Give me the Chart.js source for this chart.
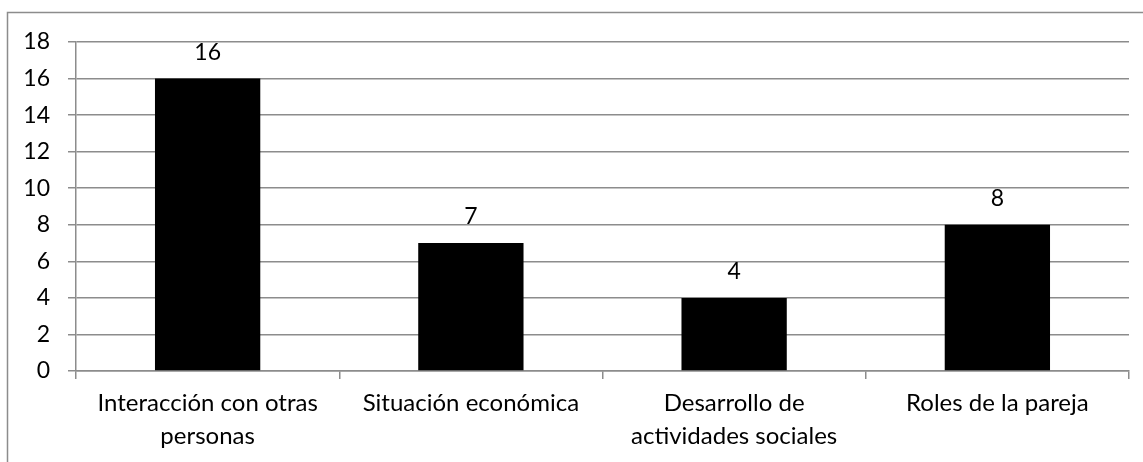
<!DOCTYPE html>
<html>
<head>
<meta charset="utf-8">
<script src="https://cdn.jsdelivr.net/npm/chart.js@4"></script>
<style>
  html, body { margin: 0; padding: 0; background: #fff; }
  #wrap { width: 1143px; height: 462px; position: relative; }
</style>
</head>
<body>
<div id="wrap"><canvas id="chart"></canvas></div>
<script>
const categories = [
    ["Interacción con otras", "personas"],
    "Situación económica",
    ["Desarrollo de", "actividades sociales"],
    "Roles de la pareja"
];
const values = [16, 7, 4, 8];
const yTicks = [0, 2, 4, 6, 8, 10, 12, 14, 16, 18];

const fontFamily = "Lato, 'Open Sans', sans-serif";

// frame around the whole chart
const framePlugin = {
    id: "frame",
    beforeDraw(chart) {
        const ctx = chart.ctx;
        ctx.save();
        ctx.strokeStyle = "#8c8c8c";
        ctx.lineWidth = 1.5;
        ctx.beginPath();
        ctx.moveTo(7.5, 462);
        ctx.lineTo(7.5, 12.5);
        ctx.lineTo(1143, 12.5);
        ctx.stroke();
        ctx.restore();
    }
};

// value above each bar
const valueLabels = {
    id: "valueLabels",
    afterDatasetsDraw(chart) {
        const ctx = chart.ctx;
        const meta = chart.getDatasetMeta(0);
        ctx.save();
        ctx.fillStyle = "#000";
        ctx.font = "23px " + fontFamily;
        ctx.textAlign = "center";
        ctx.textBaseline = "middle";
        meta.data.forEach((bar, i) => {
            ctx.fillText(values[i], bar.x, bar.y - 26);
        });
        ctx.restore();
    }
};

new Chart(document.getElementById("chart"), {
    type: "bar",
    data: {
        labels: categories,
        datasets: [
            {
                data: values,
                backgroundColor: "#000",
                borderWidth: 0,
                barPercentage: 0.4,
                categoryPercentage: 1.0,
            },
        ],
    },
    options: {
        responsive: true,
        maintainAspectRatio: false,
        animation: false,
        layout: { padding: { top: 42, right: 14, left: 0, bottom: 0 } },
        plugins: {
            legend: { display: false },
            tooltip: { enabled: false },
        },
        scales: {
            x: {
                offset: true,
                grid: {
                    offset: true,
                    drawOnChartArea: false,
                    drawTicks: true,
                    tickLength: 8,
                    color: "#8c8c8c",
                    lineWidth: 1.5,
                },
                border: { color: "#8c8c8c", width: 1.5 },
                ticks: {
                    color: "#000",
                    font: { family: fontFamily, size: 24, lineHeight: 1.38 },
                    padding: 8,
                    maxRotation: 0,
                    autoSkip: false,
                },
                afterFit(scale) { scale.height = 462 - 371; },
            },
            y: {
                min: 0,
                max: 18,
                afterBuildTicks(scale) {
                    scale.ticks = yTicks.map(v => ({ value: v }));
                },
                grid: {
                    color: "#8c8c8c",
                    lineWidth: 1.5,
                    tickLength: 8,
                },
                border: { color: "#8c8c8c", width: 1.5 },
                ticks: {
                    color: "#000",
                    font: { family: fontFamily, size: 23 },
                    padding: 18,
                },
                afterFit(scale) { scale.width = 76; },
            },
        },
    },
    plugins: [framePlugin, valueLabels],
});
</script>
</body>
</html>
